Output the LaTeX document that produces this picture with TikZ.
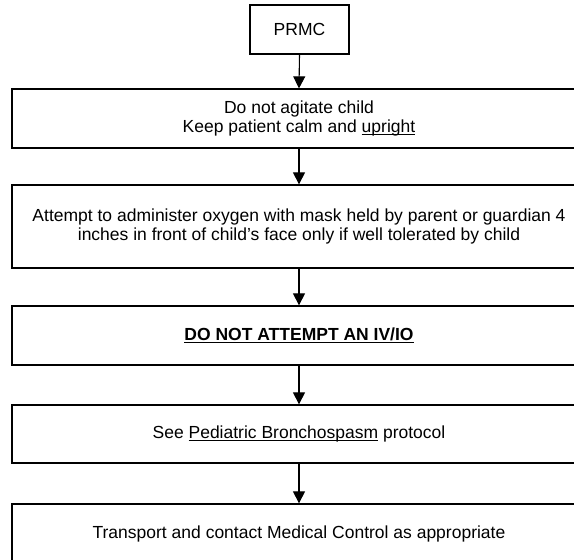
\documentclass[tikz,border=0pt]{standalone}
\usepackage{fontspec}
\setmainfont{Liberation Sans}
\usetikzlibrary{arrows.meta}
\newcommand{\myul}[1]{\leavevmode\setbox0\hbox{#1}\rlap{\rule[-2.6pt]{\wd0}{1.1pt}}\box0\relax}
\begin{document}
\begin{tikzpicture}[x=1pt,y=-1pt,
  box/.style={draw=black, line width=1.3pt, minimum width=574pt, inner sep=0pt, align=center,
    font=\fontsize{17.5}{19.5}\selectfont},
  arr/.style={line width=1.1pt, -{Triangle[width=12pt,length=12pt]}}]
\useasboundingbox (0,0) rectangle (574,560);
\clip (0,0) rectangle (574,560);
\node[box, minimum width=99pt, minimum height=49pt] (p) at (299.5,29.5) {PRMC};
\node[box, minimum height=59pt] (b1) at (299,118.5) {Do not agitate child\\Keep patient calm and \myul{upright}};
\node[box, minimum height=83pt] (b2) at (299,226.5) {Attempt to administer oxygen with mask held by parent or guardian 4\\inches in front of child’s face only if well tolerated by child};
\node[box, minimum height=59pt] (b3) at (299,335.5) {\textbf{\myul{DO NOT ATTEMPT AN IV/IO}}};
\node[box, minimum height=58pt] (b4) at (299,434) {See \myul{Pediatric Bronchospasm} protocol};
\node[box, minimum height=59pt] (b5) at (299,533.5) {Transport and contact Medical Control as appropriate};
\draw[arr] (p.south) -- (b1.north);
\draw[arr] (b1.south) -- (b2.north);
\draw[arr] (b2.south) -- (b3.north);
\draw[arr] (b3.south) -- (b4.north);
\draw[arr] (b4.south) -- (b5.north);
\end{tikzpicture}
\end{document}
